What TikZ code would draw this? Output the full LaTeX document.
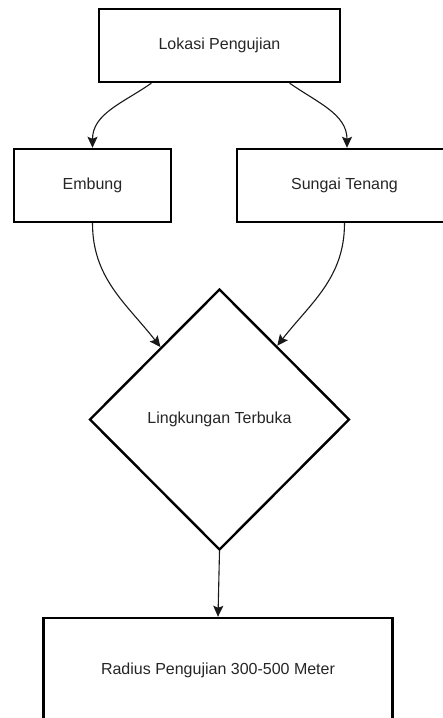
\documentclass[tikz,border=0pt]{standalone}
\usepackage{fontspec}
\setmainfont{Liberation Sans}
\usetikzlibrary{shapes.geometric,arrows.meta,calc}
\begin{document}
\begin{tikzpicture}[x=1pt,y=1pt,
  box/.style={draw=black,line width=2.4pt,rectangle,inner sep=0pt,font=\fontsize{16}{19}\selectfont,text=black!85},
  dia/.style={draw=black,line width=2.4pt,diamond,inner sep=0pt,font=\fontsize{16}{19}\selectfont,text=black!85},
  conn/.style={line width=1.1pt,black!90,-{Stealth[length=11pt,width=10pt,inset=2pt]}}]
\useasboundingbox (0,0) rectangle (443,-718);
\clip (0,0) rectangle (443,-718);
\fill[white] (0,0) rectangle (443,-718);
\node[box,minimum width=241pt,minimum height=73pt] (top) at (219.5,-45.5) {Lokasi Pengujian};
\node[box,minimum width=157pt,minimum height=73pt] (emb) at (92.5,-185.5) {Embung};
\node[box,minimum width=215pt,minimum height=73pt] (sun) at (344.5,-185.5) {Sungai Tenang};
\node[dia,minimum width=260pt,minimum height=261pt] (d) at (219.5,-419.5) {Lingkungan Terbuka};
\node[box,minimum width=349pt,minimum height=104pt] (bot) at (218,-670) {Radius Pengujian 300-500 Meter};
\coordinate (tl) at ($(top.south west)!0.22!(top.south east)$);
\coordinate (tr) at ($(top.south west)!0.78!(top.south east)$);
\coordinate (dl) at ($(d.west)!0.55!(d.north)$);
\coordinate (dr) at ($(d.east)!0.56!(d.north)$);
\draw[conn] (tl) to[out=-145,in=90] (emb.north);
\draw[conn] ([xshift=2pt]tr) to[out=-35,in=90] ([xshift=2.5pt]sun.north);
\draw[conn] (emb.south) to[out=-90,in=128] (dl);
\draw[conn] (sun.south) to[out=-90,in=52] (dr);
\draw[conn] (d.south) -- (bot.north);
\end{tikzpicture}
\end{document}
